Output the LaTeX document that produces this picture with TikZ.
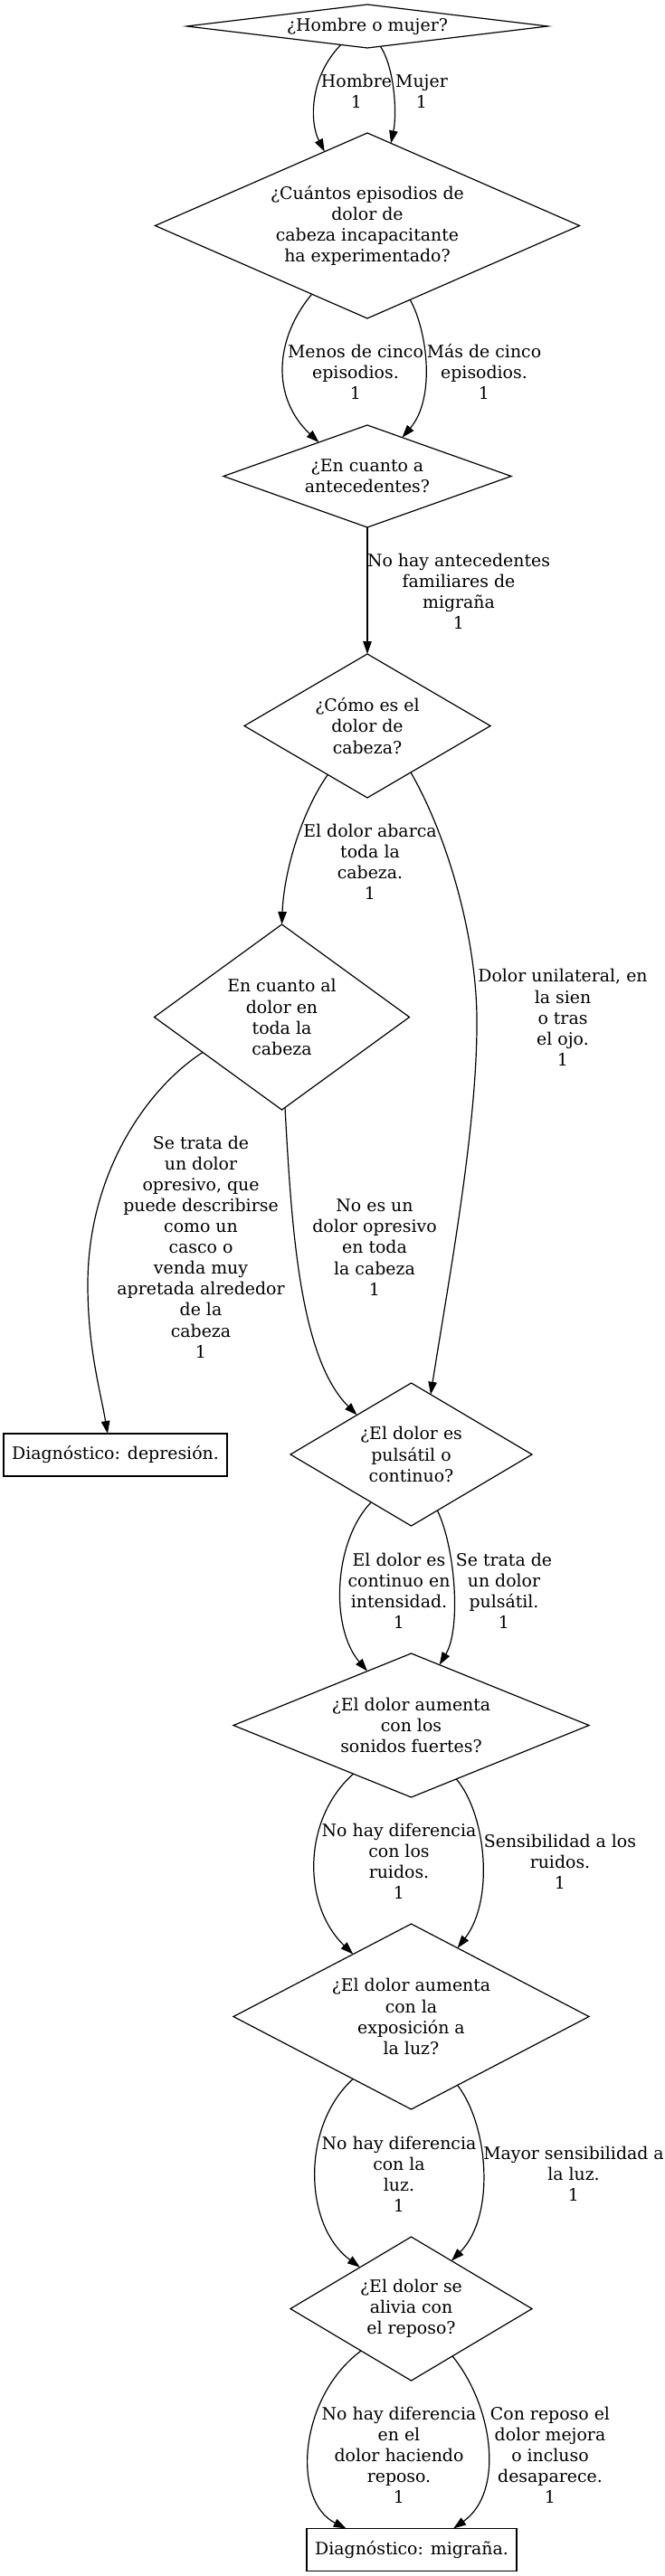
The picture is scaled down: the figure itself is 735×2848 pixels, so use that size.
\documentclass[tikz,border=0pt]{standalone}
\usepackage{fontspec}
\setmainfont{DejaVu Serif}
\usetikzlibrary{shapes.geometric,arrows.meta}
\begin{document}
\begin{tikzpicture}[x=1pt,y=1pt,
  every node/.style={font={\fontsize{18.9}{23.1}\selectfont}, align=center, inner sep=0pt, outer sep=0pt},
  dia/.style={shape=diamond, draw, line width=1.2pt},
  box/.style={draw, rectangle, line width=1.2pt, minimum height=47pt},
  lbl/.style={},
  edge/.style={line width=1.2pt, -{Triangle[length=14pt,width=9.5pt]}},
]
\useasboundingbox (0,0) rectangle (735,-2848);

% decision nodes
\node[dia, aspect=8.31, minimum width=399pt, minimum height=48pt] (d1) at (406,-29) {¿Hombre o mujer?};
\node[dia, aspect=2.29, minimum width=469pt, minimum height=205pt] (d2) at (406,-249.5) {¿Cuántos episodios de\\dolor de\\cabeza incapacitante\\ha experimentado?};
\node[dia, aspect=2.81, minimum width=318pt, minimum height=113pt] (d3) at (406,-526.5) {¿En cuanto a\\antecedentes?};
\node[dia, aspect=1.71, minimum width=272pt, minimum height=159pt] (d4) at (406,-802.5) {¿Cómo es el\\dolor de\\cabeza?};
\node[dia, aspect=1.376, minimum width=282pt, minimum height=205pt] (d5) at (311.5,-1124.5) {En cuanto al\\dolor en\\toda la\\cabeza};
\node[box, minimum width=247pt] (dep) at (127.5,-1608.5) {Diagnóstico: depresión.};
\node[dia, aspect=1.69, minimum width=267pt, minimum height=158pt] (d6) at (454.5,-1608) {¿El dolor es\\pulsátil o\\continuo?};
\node[dia, aspect=2.47, minimum width=393pt, minimum height=159pt] (d7) at (454.5,-1907.5) {¿El dolor aumenta\\con los\\sonidos fuertes?};
\node[dia, aspect=1.917, minimum width=393pt, minimum height=205pt] (d8) at (454.5,-2229.5) {¿El dolor aumenta\\con la\\exposición a\\la luz?};
\node[dia, aspect=1.68, minimum width=267pt, minimum height=159pt] (d9) at (454.5,-2552.5) {¿El dolor se\\alivia con\\el reposo?};
\node[box, minimum width=232pt] (mig) at (455,-2819) {Diagnóstico: migraña.};

% connectors
\draw[edge] (d1.-145) .. controls (342,-85) and (342,-135) .. (d2.120);
\draw[edge] (d1.-57) .. controls (436,-75) and (439,-125) .. (d2.74);
\draw[edge] (d2.-129) .. controls (303,-375) and (300,-440) .. (d3.145);
\draw[edge] (d2.-60) .. controls (472,-365) and (482,-440) .. (d3.48);
\draw[edge] (d3.south) -- (d4.north);
\draw[edge] (d4.-129) .. controls (335,-895) and (314,-960) .. (d5.north);
\draw[edge] (d4.-47) .. controls (495,-925) and (528,-1040) .. (527,-1133) .. controls (527,-1250) and (495,-1420) .. (d6.72);
\draw[edge] (d5.-156) .. controls (160,-1205) and (97,-1300) .. (97,-1420) .. controls (97,-1490) and (111,-1538) .. (dep.110);
\draw[edge] (d5.-88) .. controls (322,-1350) and (330,-1500) .. (d6.144);
\draw[edge] (d6.-130) .. controls (368,-1705) and (365,-1800) .. (d7.129);
\draw[edge] (d6.-65) .. controls (503,-1710) and (510,-1800) .. (d7.65);
\draw[edge] (d7.-140) .. controls (335,-2010) and (333,-2105) .. (d8.133);
\draw[edge] (d7.-50) .. controls (537,-2005) and (547,-2100) .. (d8.56);
\draw[edge] (d8.-133) .. controls (333,-2350) and (335,-2460) .. (d9.141);
\draw[edge] (d8.-56) .. controls (540,-2350) and (548,-2450) .. (d9.50);
\draw[edge] (d9.-140) .. controls (330,-2650) and (322,-2765) .. (mig.162);
\draw[edge] (d9.-49) .. controls (545,-2660) and (558,-2755) .. (mig.27);

% connector labels
\node[lbl] (l1) at (394,-101) {Hombre\\1};
\node[lbl] (l2) at (466,-101) {Mujer\\1};
\node[lbl] (l3) at (393,-411) {Menos de cinco\\episodios.\\1};
\node[lbl] (l4) at (535,-411) {Más de cinco\\episodios.\\1};
\node[lbl] (l5) at (507,-653.5) {No hay antecedentes\\familiares de\\migraña\\1};
\node[lbl] (l6) at (409,-952.5) {El dolor abarca\\toda la\\cabeza.\\1};
\node[lbl] (l7) at (622,-1125) {Dolor unilateral, en\\la sien\\o tras\\el ojo.\\1};
\node[lbl] (l8) at (222,-1378.5) {Se trata de\\un dolor\\opresivo, que\\puede describirse\\como un\\casco o\\venda muy\\apretada alrededor\\de la\\cabeza\\1};
\node[lbl] (l9) at (414,-1379) {No es un\\dolor opresivo\\en toda\\la cabeza\\1};
\node[lbl] (l10) at (441,-1758.5) {El dolor es\\continuo en\\intensidad.\\1};
\node[lbl] (l11) at (557,-1758.5) {Se trata de\\un dolor\\pulsátil.\\1};
\node[lbl] (l12) at (441,-2057.5) {No hay diferencia\\con los\\ruidos.\\1};
\node[lbl] (l13) at (619,-2058) {Sensibilidad a los\\ruidos.\\1};
\node[lbl] (l14) at (441,-2403.5) {No hay diferencia\\con la\\luz.\\1};
\node[lbl] (l15) at (634,-2403) {Mayor sensibilidad a\\la luz.\\1};
\node[lbl] (l16) at (441,-2714) {No hay diferencia\\en el\\dolor haciendo\\reposo.\\1};
\node[lbl] (l17) at (608,-2714) {Con reposo el\\dolor mejora\\o incluso\\desaparece.\\1};
\end{tikzpicture}
\end{document}
